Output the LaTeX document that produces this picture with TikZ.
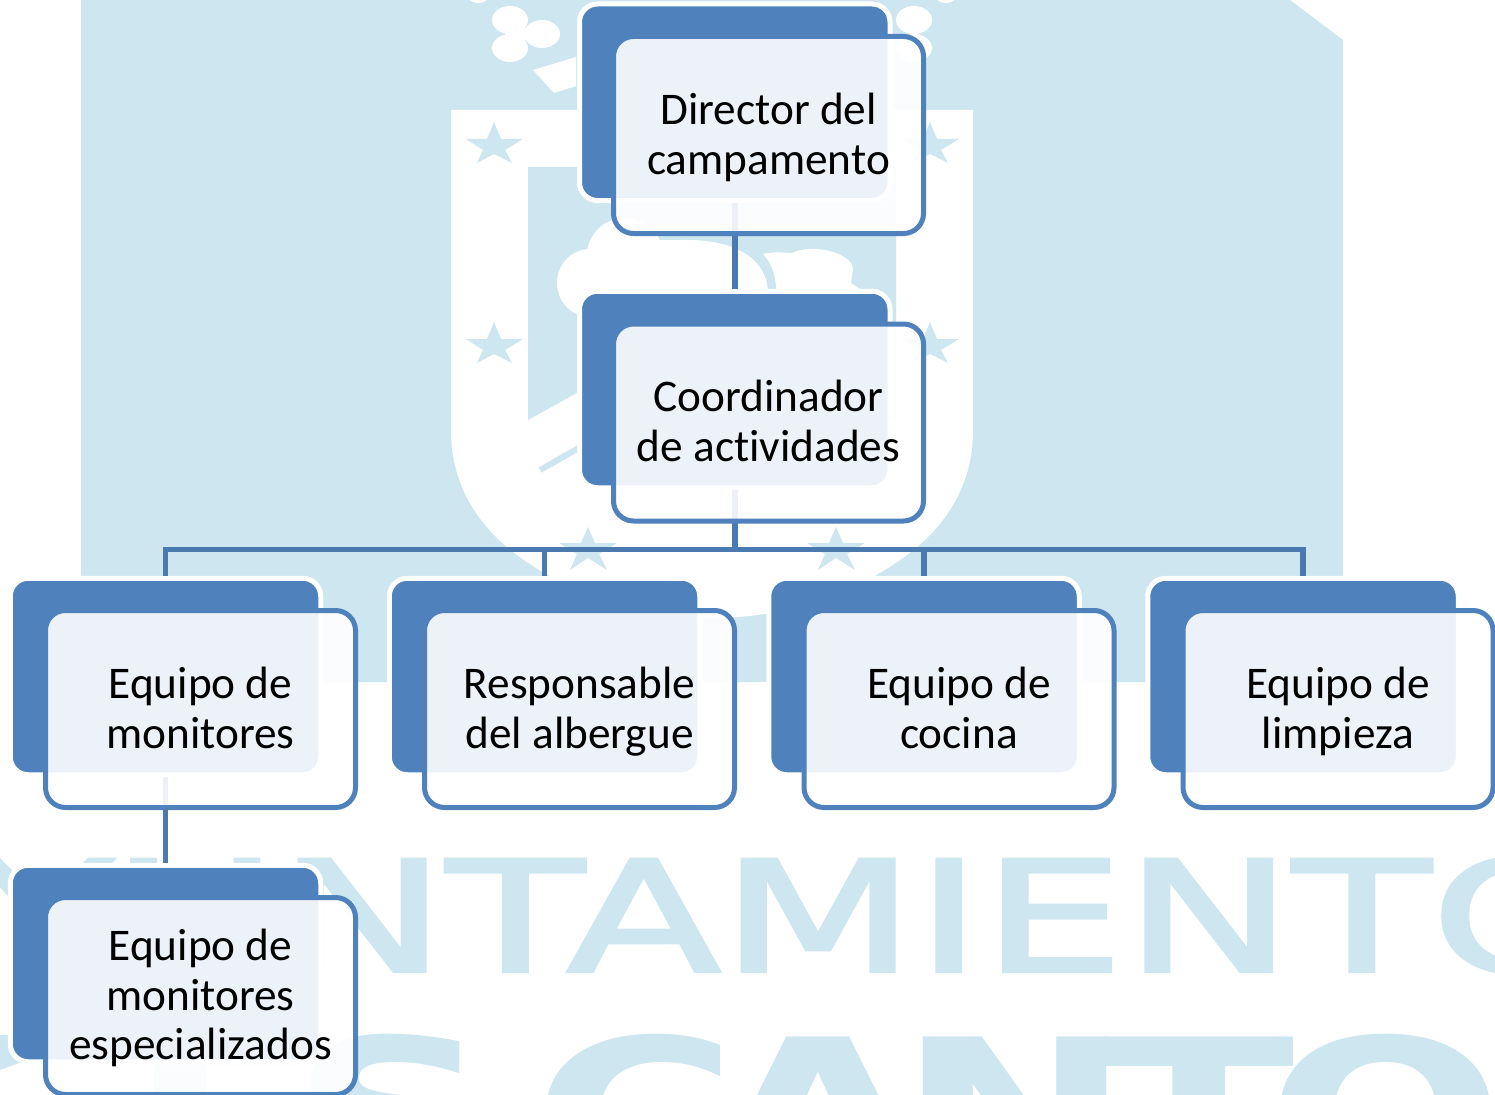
\documentclass[tikz,border=0pt]{standalone}
\usepackage{fontspec}
\setmainfont{Carlito}[Ligatures=NoCommon]
\newfontfamily\wmfont{DejaVu Sans}[FakeBold=2]
\newfontfamily\wmcfont{DejaVu Sans Bold}[LetterSpace=-10.3]
\definecolor{wm}{HTML}{CDE6F0}
\definecolor{boxblue}{HTML}{4F81BD}
\definecolor{linkblue}{HTML}{4A7AB0}
\newcommand{\tl}{\strut}
\newcommand{\tf}{\strut\rule{0pt}{43.4pt}}
\tikzset{
  backbox/.style={rectangle,rounded corners=18pt,draw=white,line width=5pt,fill=boxblue,minimum width=310.5pt,minimum height=196.5pt,inner sep=0pt},
  frontbox/.style={rectangle,rounded corners=20pt,draw=boxblue,line width=5pt,fill=white,fill opacity=.9,text opacity=1,minimum width=310pt,minimum height=197pt,inner sep=0pt,align=center,font=\fontsize{45.3}{49.6}\selectfont,text=black},
  link/.style={draw=linkblue,line width=5.5pt},
  wmtext/.style={text=wm,inner sep=0pt,anchor=base west}
}
\begin{document}
\begin{tikzpicture}[x=1pt,y=-1pt]
\useasboundingbox (0,0) rectangle (1495,1094);
\clip (0,0) rectangle (1495,1094);
% watermark
\fill[wm] (81,0) -- (1290,0) -- (1343,40) -- (1343,682) -- (81,682) -- cycle;
\fill[white] (478,-3) ellipse [x radius=10,y radius=6];
\fill[white] (946,-3) ellipse [x radius=10,y radius=6];
\foreach \xc in {510,914}{
  \fill[white] (\xc,20) ellipse [x radius=18,y radius=14];
  \fill[white] (\xc,48) ellipse [x radius=18,y radius=14];
}
\fill[white] (542,34) ellipse [x radius=18,y radius=14];
\fill[white] (505,28) rectangle (530,40);
\fill[white] (533,70) -- (576,57) -- (576,86) -- (554,93) -- cycle;
\fill[white] (451,110) -- (973,110) -- (973,430)
  .. controls (973,500) and (930,545) .. (876,575)
  .. controls (830,603) and (770,618) .. (712,618)
  .. controls (654,618) and (594,603) .. (548,575)
  .. controls (494,545) and (451,500) .. (451,430) -- cycle;
\fill[wm] (528,167) -- (896,167) -- (896,420) -- (712,318) -- (528,420) -- cycle;
\draw[wm,line width=6pt] (540,470) -- (600,436);
% cloud
\fill[white] (590,283) ellipse [x radius=33,y radius=34];
\fill[white] (625,255) ellipse [x radius=38,y radius=37];
\fill[white] (625,240) -- (676,240) .. controls (730,238) and (766,255) .. (768,292) -- (768,320) -- (590,320) -- cycle;
\fill[white] (763,254) .. controls (775,251) and (785,253) .. (792,253)
  .. controls (815,242) and (860,255) .. (852,274) -- (851,283) -- (860,289) -- (860,320) -- (776,320) -- (776,290)
  .. controls (776,275) and (771,262) .. (763,254) -- cycle;
% stars
\foreach \sx/\sy in {494/0,494/200,930/0,930/200}{
  \fill[wm] (\sx,122+\sy) -- (\sx+7,139+\sy) -- (\sx+29,139+\sy) -- (\sx+11,150+\sy) -- (\sx+18,163+\sy) -- (\sx,154+\sy) -- (\sx-17,163+\sy) -- (\sx-11,150+\sy) -- (\sx-28,139+\sy) -- (\sx-7,139+\sy) -- cycle;
}
\foreach \sx in {588,836}{
  \fill[wm] (\sx,527) -- (\sx+7,543) -- (\sx+29,543) -- (\sx+11,554) -- (\sx+19,570) -- (\sx,558) -- (\sx-18,570) -- (\sx-11,554) -- (\sx-29,543) -- (\sx-7,543) -- cycle;
}
% watermark words
\node[wmtext] (wordone) at (-162,971.5) {\wmfont\fontsize{154}{154}\selectfont\scalebox{1.464}[1]{AYUNTAMIENTO}};
\node[wmtext] (wordtwoa) at (128,1188) {\wmcfont\fontsize{208}{208}\selectfont\scalebox{1.35}[1]{ES}};
\node[wmtext] (wordtwob) at (532,1188) {\wmcfont\fontsize{208}{208}\selectfont\scalebox{1.35}[1]{CANTO}};
\fill[wm] (0,1035) -- (22,1035) -- (22,1062) -- (0,1070) -- cycle;
% back boxes
\node[backbox] (dirb) at (734.75,102.25) {};
\node[backbox] (coob) at (734.75,389.5) {};
\node[backbox] (monb) at (165.5,676.5) {};
\node[backbox] (resb) at (544.5,676.5) {};
\node[backbox] (cocb) at (924,676.5) {};
\node[backbox] (limb) at (1303,676.5) {};
\node[backbox] (espb) at (165.5,963.5) {};
% connectors
\coordinate (bus) at (734.75,549.5);
\draw[link] (dirb.south) -- (coob.north);
\draw[link] (coob.south) -- (bus);
\draw[link] (bus) -| (monb.north);
\draw[link] (bus) -| (resb.north);
\draw[link] (bus) -| (cocb.north);
\draw[link] (bus) -| (limb.north);
\draw[link] (monb.south) -- (espb.north);
% front boxes
\node[frontbox] (dirf) at (768.5,135) {\tf Director del\\\tl campamento};
\node[frontbox] (coof) at (768.5,422.5) {\tf Coordinador\\\tl de actividades};
\node[frontbox] (monf) at (200.5,709) {\tf Equipo de\\\tl monitores};
\node[frontbox] (resf) at (579.5,709) {\tf Responsable\\\tl del albergue};
\node[frontbox] (cocf) at (959,709) {\tf Equipo de\\\tl cocina};
\node[frontbox] (limf) at (1338,709) {\tf Equipo de\\\tl limpieza};
\node[frontbox] (espf) at (200.5,996) {\tf Equipo de\\\tl monitores\\\tl especializados};
\end{tikzpicture}
\end{document}
